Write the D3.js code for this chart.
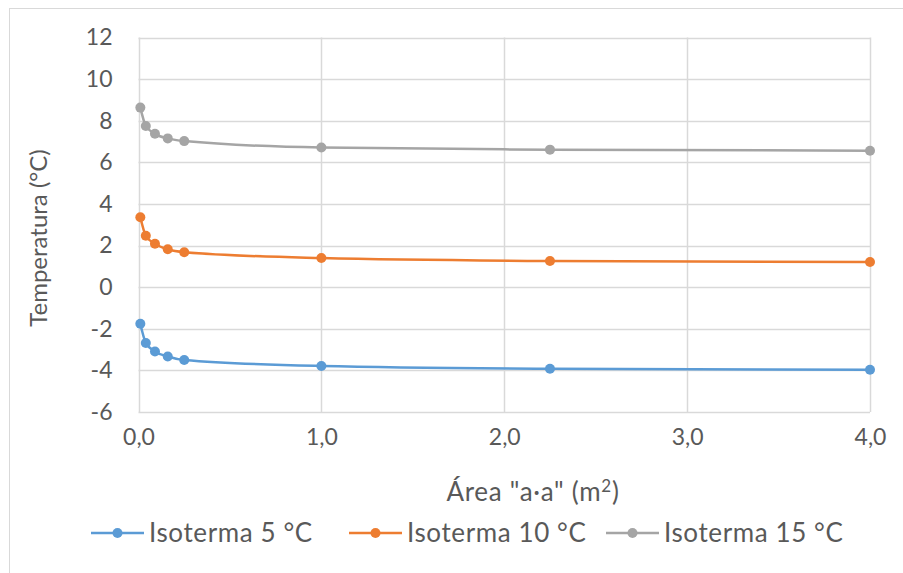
<!DOCTYPE html>
<html><head><meta charset="utf-8">
<script src="https://cdn.jsdelivr.net/npm/d3@7"></script>
<style>body{margin:0;background:#fff}svg{display:block}text{font-family:Lato,"Open Sans",sans-serif;fill:#595959}</style>
</head><body><svg id="c" width="903" height="573"></svg>
<script>
const xValues = [0.01, 0.04, 0.09, 0.16, 0.25, 1.0, 2.25, 4.0];
const iso5 = [-1.76, -2.68, -3.09, -3.33, -3.50, -3.79, -3.92, -3.97];
const iso10 = [3.36, 2.47, 2.09, 1.82, 1.68, 1.40, 1.26, 1.21];
const iso15 = [8.63, 7.75, 7.37, 7.15, 7.02, 6.71, 6.61, 6.56];
const seriesNames = ["Isoterma 5 °C", "Isoterma 10 °C", "Isoterma 15 °C"];
const colors = ["#5b9bd5", "#ed7d31", "#a5a5a5"];
const xTicks = [0, 1, 2, 3, 4];
const yTicks = [-6, -4, -2, 0, 2, 4, 6, 8, 10, 12];

const svg = d3.select("#c");
svg.append("rect").attr("x", 9.5).attr("y", 8.5).attr("width", 910).attr("height", 580)
  .attr("fill", "none").attr("stroke", "#d9d9d9").attr("stroke-width", 1);

const x = d3.scaleLinear().domain([0, 4]).range([138.5, 870]);
const y = d3.scaleLinear().domain([-6, 12]).range([412, 37.5]);

const g = svg.append("g");
g.selectAll(".hg").data(yTicks).join("line")
  .attr("x1", x(0)).attr("x2", x(4)).attr("y1", d => Math.round(y(d)) + 0.5).attr("y2", d => Math.round(y(d)) + 0.5)
  .attr("stroke", "#d9d9d9").attr("stroke-width", 1.5);
g.selectAll(".vg").data(xTicks).join("line")
  .attr("y1", y(-6)).attr("y2", y(12)).attr("x1", d => Math.round(x(d)) + 0.5).attr("x2", d => Math.round(x(d)) + 0.5)
  .attr("stroke", "#d9d9d9").attr("stroke-width", 1.5);

const fmtX = d => d3.format(".1f")(d).replace(".", ",");
const fmtY = d => String(d);
const yAxis = d3.axisLeft(y).tickValues(yTicks).tickFormat(fmtY).tickSize(0).tickPadding(26);
const ya = svg.append("g").attr("transform", `translate(${x(0)},0)`).call(yAxis);
ya.select(".domain").remove();
ya.selectAll("text").attr("font-size", 23).attr("fill", "#595959").attr("font-family", "Lato");
const xAxis = d3.axisBottom(x).tickValues(xTicks).tickFormat(fmtX).tickSize(0).tickPadding(17);
const xa = svg.append("g").attr("transform", `translate(0,${y(-6)})`).call(xAxis);
xa.select(".domain").remove();
xa.selectAll("text").attr("font-size", 23).attr("fill", "#595959").attr("font-family", "Lato");

const all = [iso5, iso10, iso15];
const line = d3.line().x((d, i) => x(xValues[i])).y(d => y(d)).curve(d3.curveMonotoneX);
all.forEach((s, k) => {
  svg.append("path").attr("d", line(s)).attr("fill", "none").attr("stroke", colors[k]).attr("stroke-width", 2.5);
  svg.selectAll(null).data(s).join("circle")
    .attr("cx", (d, i) => x(xValues[i])).attr("cy", d => y(d)).attr("r", 5).attr("fill", colors[k]);
});

svg.append("text").attr("x", 533).attr("y", 501).attr("text-anchor", "middle").attr("font-size", 26)
  .attr("letter-spacing", 0.7)
  .html('Área "a·a" (m<tspan dy="-9" font-size="17">2</tspan><tspan dy="9">)</tspan>');
svg.append("text").attr("transform", "translate(47,238) rotate(-90)").attr("text-anchor", "middle")
  .attr("font-size", 24).text("Temperatura (°C)");

const legX = [91, 349, 606];
seriesNames.forEach((n, k) => {
  const lg = svg.append("g").attr("transform", `translate(${legX[k]},533)`);
  lg.append("line").attr("x1", 0).attr("x2", 53).attr("stroke", colors[k]).attr("stroke-width", 2.5);
  lg.append("circle").attr("cx", 26.5).attr("r", 5).attr("fill", colors[k]);
  lg.append("text").attr("x", 58).attr("y", 9).attr("font-size", 26).attr("letter-spacing", 0.6).text(n);
});
</script></body></html>
